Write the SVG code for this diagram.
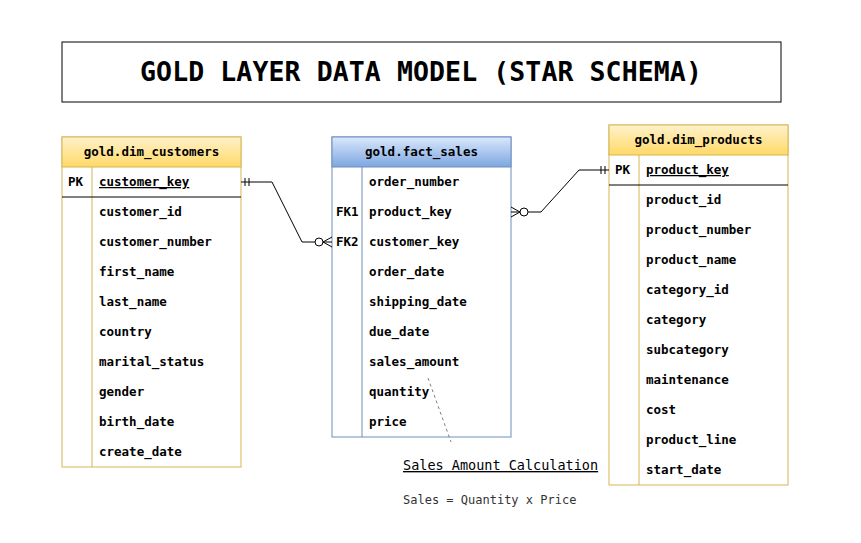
<svg xmlns="http://www.w3.org/2000/svg" width="861" height="543" viewBox="0 0 861 543">
<defs>
<linearGradient id="gy" x1="0" y1="0" x2="0" y2="1"><stop offset="0" stop-color="#fff2cc"/><stop offset="1" stop-color="#ffd966"/></linearGradient>
<linearGradient id="gb" x1="0" y1="0" x2="0" y2="1"><stop offset="0" stop-color="#dae8fc"/><stop offset="1" stop-color="#7ea6e0"/></linearGradient>
</defs>
<style>
text{font-family:"DejaVu Sans Mono","Liberation Mono",monospace;font-size:12.5px;font-weight:bold;fill:#000}
.hd{text-anchor:middle}
.pk{text-decoration:underline}
.yb{fill:#fff;stroke:#d6b656;stroke-width:1}
.bb{fill:#fff;stroke:#6c8ebf;stroke-width:1}
.ln{stroke:#000;stroke-width:1;fill:none}
.cn{stroke:#000;stroke-width:1;fill:none}
</style>
<rect width="861" height="543" fill="#fff"/>
<g id="title">
<rect x="62" y="42" width="719" height="60" fill="#fff" stroke="#000" stroke-width="1"/>
<text x="421" y="81" text-anchor="middle" style="font-size:26.5px;letter-spacing:0.1px">GOLD LAYER DATA MODEL (STAR SCHEMA)</text>
</g>
<g id="dim_customers">
<rect class="yb" x="62" y="137" width="179" height="330"/>
<rect x="62" y="137" width="179" height="30" fill="url(#gy)" stroke="#d6b656"/>
<line class="ln" x1="92" y1="167" x2="92" y2="467" style="stroke:#d6b656"/>
<line class="ln" x1="62" y1="197" x2="241" y2="197"/>
<text class="hd" x="151.5" y="156">gold.dim_customers</text>
<text x="68" y="186">PK</text>
<text class="pk" x="99" y="186">customer_key</text>
<text x="99" y="216">customer_id</text>
<text x="99" y="246">customer_number</text>
<text x="99" y="276">first_name</text>
<text x="99" y="306">last_name</text>
<text x="99" y="336">country</text>
<text x="99" y="366">marital_status</text>
<text x="99" y="396">gender</text>
<text x="99" y="426">birth_date</text>
<text x="99" y="456">create_date</text>
</g>
<g id="fact_sales">
<rect class="bb" x="332" y="137" width="179" height="300"/>
<rect x="332" y="137" width="179" height="30" fill="url(#gb)" stroke="#6c8ebf"/>
<line class="ln" x1="362" y1="167" x2="362" y2="437" style="stroke:#6c8ebf"/>
<text class="hd" x="421.5" y="156">gold.fact_sales</text>
<text x="369" y="186">order_number</text>
<text x="336" y="216">FK1</text>
<text x="369" y="216">product_key</text>
<text x="336" y="246">FK2</text>
<text x="369" y="246">customer_key</text>
<text x="369" y="276">order_date</text>
<text x="369" y="306">shipping_date</text>
<text x="369" y="336">due_date</text>
<text x="369" y="366">sales_amount</text>
<text x="369" y="396">quantity</text>
<text x="369" y="426">price</text>
</g>
<g id="dim_products">
<rect class="yb" x="609" y="125" width="179" height="360"/>
<rect x="609" y="125" width="179" height="30" fill="url(#gy)" stroke="#d6b656"/>
<line class="ln" x1="639" y1="155" x2="639" y2="485" style="stroke:#d6b656"/>
<line class="ln" x1="609" y1="185" x2="788" y2="185"/>
<text class="hd" x="698.5" y="144">gold.dim_products</text>
<text x="615" y="174">PK</text>
<text class="pk" x="646" y="174">product_key</text>
<text x="646" y="204">product_id</text>
<text x="646" y="234">product_number</text>
<text x="646" y="264">product_name</text>
<text x="646" y="294">category_id</text>
<text x="646" y="324">category</text>
<text x="646" y="354">subcategory</text>
<text x="646" y="384">maintenance</text>
<text x="646" y="414">cost</text>
<text x="646" y="444">product_line</text>
<text x="646" y="474">start_date</text>
</g>
<g id="connectors">
<path class="cn" d="M241,182 L272,182 L302,242 L315,242"/>
<path class="cn" d="M245,178 V186 M249,178 V186"/>
<circle class="cn" cx="319" cy="242" r="4" fill="#fff"/>
<path class="cn" d="M323,242 H332 M332,237 L323,242 L332,247"/>
<path class="cn" d="M528,212 L541,212 L579,170 L609,170"/>
<path class="cn" d="M601,166 V174 M605,166 V174"/>
<circle class="cn" cx="524" cy="212" r="4" fill="#fff"/>
<path class="cn" d="M511,212 H520 M511,207 L520,212 L511,217"/>
<path d="M428,378 L451,442" stroke="#808080" stroke-width="1" stroke-dasharray="3,3" fill="none"/>
</g>
<g id="note">
<text x="403" y="470" style="font-weight:normal;font-size:13.5px;text-decoration:underline">Sales Amount Calculation</text>
<text x="403" y="504" style="font-weight:normal;font-size:12px;fill:#333">Sales = Quantity x Price</text>
</g>
</svg>
